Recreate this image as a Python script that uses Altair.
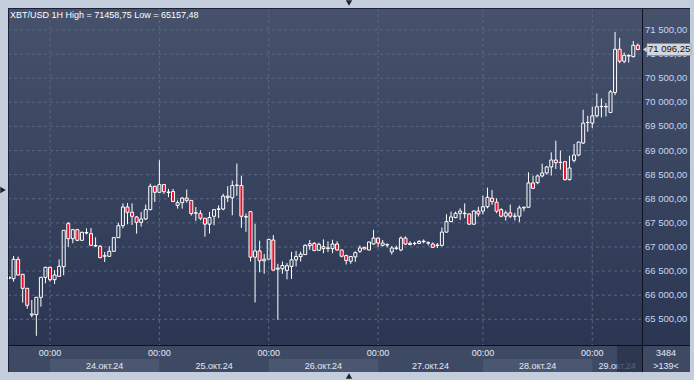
import altair as alt
import pandas as pd

title_text = "XBT/USD 1H High = 71458,75 Low = 65157,48"

opens = [66350, 66343, 66744, 66433, 66142, 65590, 65596, 65956, 66370, 66578,
         66322, 66391, 66592, 67484, 67172, 67359, 67138, 67290, 67276, 67020,
         67014, 66808, 66806, 66910, 67193, 67442, 67829, 67719, 67622, 67511,
         67580, 67774, 68258, 68134, 68293, 68130, 68151, 67863, 67918, 68014,
         67966, 67700, 67692, 67596, 67473, 67637, 67780, 67788, 68055, 68020,
         68275, 68274, 67630, 67733, 66788, 66918, 66712, 66747, 67144, 66540,
         66548, 66514, 66596, 66733, 66801, 66842, 67027, 67075, 66931, 67007,
         66970, 66965, 67061, 66938, 66822, 66705, 66794, 66911, 66993, 66938,
         67061, 67185, 67034, 67040, 66897, 66970, 66938, 67185, 67050, 67070,
         67075, 67110, 67090, 67061, 67030, 67034, 67308, 67527, 67609, 67698,
         67690, 67685, 67472, 67746, 67746, 67835, 68010, 67928, 67776, 67638,
         67707, 67635, 67638, 67810, 67824, 68328, 68334, 68473, 68535, 68659,
         68804, 68752, 68769, 68397, 68797, 68907, 69155, 69580, 69569, 69721,
         69910, 69905, 69790, 70204, 71100, 70852, 70960, 70948, 71183]
highs = [66390, 66813, 66800, 66440, 66150, 65900, 65960, 66380, 66590, 66590,
         66522, 66744, 67352, 67518, 67370, 67375, 67315, 67387, 67394, 67200,
         67040, 66896, 67014, 67200, 67500, 67905, 67912, 67905, 67640, 67726,
         67880, 68313, 68270, 68798, 68300, 68205, 68205, 67966, 68034, 68192,
         67970, 67829, 67760, 67600, 67726, 67780, 67863, 68103, 68260, 68377,
         68730, 68479, 67692, 67740, 67480, 67130, 66856, 67160, 67247, 66651,
         66700, 66665, 66900, 66918, 66904, 67055, 67144, 67100, 67090, 67158,
         67116, 67150, 67116, 66945, 66842, 66815, 66910, 67034, 67000, 67110,
         67356, 67190, 67144, 67075, 67020, 67027, 67219, 67220, 67116, 67109,
         67144, 67157, 67116, 67095, 67082, 67404, 67678, 67733, 67733, 67801,
         67904, 67700, 67760, 67835, 68061, 68230, 68183, 68010, 67803, 67755,
         67880, 67707, 67859, 67830, 68548, 68479, 68500, 68728, 68680, 68962,
         69204, 68997, 68780, 68893, 69135, 69180, 69845, 69721, 69907, 70183,
         70080, 69983, 70252, 71458.75, 71335, 71031, 70997, 71273, 71218]
lows = [66330, 66281, 66410, 65845, 65720, 65541, 65157.48, 65762, 66246, 66280,
        66232, 66380, 66412, 67000, 67076, 67120, 67125, 67262, 67030, 67000,
        66770, 66688, 66800, 66900, 67190, 67387, 67470, 67456, 67276, 67421,
        67560, 67760, 67933, 68120, 68100, 68034, 67931, 67794, 67794, 67918,
        67651, 67541, 67555, 67212, 67281, 67452, 67600, 67760, 67931, 67657,
        68060, 67397, 67315, 66699, 65850, 66473, 66445, 66740, 66510, 65490,
        66445, 66329, 66336, 66596, 66699, 66835, 66938, 66911, 66918, 66870,
        66897, 66870, 66920, 66787, 66637, 66650, 66691, 66876, 66950, 66930,
        67048, 66993, 67013, 66993, 66842, 66938, 66911, 67040, 67034, 67034,
        67061, 67075, 67034, 66979, 66979, 67013, 67300, 67513, 67596, 67561,
        67596, 67465, 67465, 67630, 67678, 67801, 67873, 67700, 67617, 67548,
        67600, 67548, 67514, 67740, 67820, 68200, 68300, 68445, 68500, 68480,
        68617, 68603, 68376, 68380, 68755, 68880, 69135, 69390, 69466, 69686,
        69686, 69707, 69776, 70149, 70811, 70811, 70824, 70928, 71080]
closes = [66370, 66744, 66419, 66142, 65790, 65610, 65956, 66370, 66578, 66322,
          66419, 66599, 67345, 67172, 67359, 67138, 67304, 67300, 67034, 67030,
          66778, 66818, 66910, 67193, 67442, 67829, 67719, 67636, 67511, 67580,
          67774, 68258, 68134, 68293, 68148, 68140, 67945, 67918, 68014, 67966,
          67692, 67710, 67596, 67473, 67610, 67774, 67790, 68055, 68027, 68274,
          68285, 67637, 67620, 66788, 66918, 66712, 66747, 67158, 66520, 66560,
          66616, 66610, 66733, 66801, 66849, 67034, 67068, 66925, 67055, 66966,
          66980, 67061, 66938, 66808, 66719, 66801, 66883, 66979, 66959, 67102,
          67185, 67082, 67082, 67050, 66979, 66980, 67185, 67061, 67075, 67075,
          67116, 67120, 67080, 66993, 67040, 67308, 67527, 67623, 67698, 67746,
          67700, 67472, 67746, 67685, 67835, 68030, 67941, 67742, 67638, 67707,
          67638, 67640, 67810, 67825, 68328, 68217, 68473, 68535, 68659, 68804,
          68748, 68755, 68397, 68638, 68907, 69176, 69569, 69583, 69721, 69907,
          69915, 69915, 70217, 71100, 70852, 70976, 70970, 71183, 71096.25]

day_start_idx = [9, 33, 57, 81, 104, 128]
time_labels = ["00:00", "00:00", "00:00", "00:00", "00:00", "00:00"]
date_labels = ["24.окт.24", "25.окт.24", "26.окт.24", "27.окт.24", "28.окт.24", "29.окт.24"]
y_ticks = [65500, 66000, 66500, 67000, 67500, 68000, 68500, 69000, 69500, 70000, 70500, 71000, 71500]
last_price = 71096.25
bar_total = "3484"
bar_visible = ">139<"

W, H = 634, 337
x_dom = [-0.22, 138.91]
y_dom = [64967, 71956]

FONT = "Liberation Sans"
xs = alt.Scale(domain=x_dom, nice=False, zero=False)
ys = alt.Scale(domain=y_dom, nice=False, zero=False)


def fmt(v):
    return f"{v:,.2f}".replace(",", " ").replace(".", ",")


one = alt.Data(values=[{"k": 1}])

grad = alt.Gradient(gradient="linear",
                    stops=[alt.GradientStop(color="#46526c", offset=0),
                           alt.GradientStop(color="#2b3752", offset=1)],
                    x1=0, x2=0, y1=0, y2=1)

plot_bg = alt.Chart(one).mark_rect(color=grad).encode(
    x=alt.value(0), x2=alt.value(W), y=alt.value(0), y2=alt.value(H))
right_bg = alt.Chart(one).mark_rect(color=grad).encode(
    x=alt.value(W), x2=alt.value(W + 48), y=alt.value(0), y2=alt.value(H))
strip_bg = alt.Chart(one).mark_rect(color="#3e4a63").encode(
    x=alt.value(0), x2=alt.value(W + 48), y=alt.value(H), y2=alt.value(H + 27))

# day bands in the lower strip: each day runs to the next day start (last one to the view edge)
ends = day_start_idx[1:] + [x_dom[1]]
days = pd.DataFrame({
    "d": day_start_idx, "e": ends, "t": time_labels, "lab": date_labels,
    "shade": ["light" if k % 2 == 0 else "dark" for k in range(len(day_start_idx))],
})
band_layer = alt.Chart(days).transform_filter("datum.shade == 'light'").mark_rect(
    color="#4b5771").encode(
    x=alt.X("d:Q", scale=xs, axis=None), x2="e:Q",
    y=alt.value(H + 14), y2=alt.value(H + 27))

grid_df = pd.DataFrame({"v": y_ticks, "lab": [fmt(v) for v in y_ticks]})
hgrid = alt.Chart(grid_df).mark_rule(color="#5b6780", strokeDash=[3, 3], strokeWidth=1).encode(
    y=alt.Y("v:Q", scale=ys, axis=None), x=alt.value(0), x2=alt.value(W))

vgrid = alt.Chart(days).mark_rule(color="#5b6780", strokeDash=[3, 3], strokeWidth=1).encode(
    x=alt.X("d:Q", scale=xs, axis=None), y=alt.value(0), y2=alt.value(H))

df = pd.DataFrame({"i": list(range(len(opens))), "o": opens, "h": highs, "l": lows, "c": closes})
base = alt.Chart(df).transform_calculate(
    top="max(datum.o, datum.c)", bot="min(datum.o, datum.c)",
    xl="datum.i - 0.33", xr="datum.i + 0.33")
wick_up = base.mark_rule(color="white", strokeWidth=1).encode(
    x=alt.X("i:Q", scale=xs, axis=None), y=alt.Y("h:Q", scale=ys, axis=None), y2="top:Q")
wick_dn = base.mark_rule(color="white", strokeWidth=1).encode(
    x=alt.X("i:Q", scale=xs, axis=None), y=alt.Y("bot:Q", scale=ys, axis=None), y2="l:Q")
body = base.mark_rect(stroke="white", strokeWidth=1).encode(
    x=alt.X("xl:Q", scale=xs, axis=None), x2="xr:Q",
    y=alt.Y("top:Q", scale=ys, axis=None), y2="bot:Q",
    fill=alt.condition("datum.c < datum.o", alt.value("#e8102c"), alt.value("transparent")))

sep_v = alt.Chart(one).mark_rule(color="#0c1220", strokeWidth=1).encode(
    x=alt.value(W + 0.5), y=alt.value(0), y2=alt.value(H + 27))
sep_h = alt.Chart(one).mark_rule(color="#0c1220", strokeWidth=1).encode(
    y=alt.value(H + 0.5), x=alt.value(0), x2=alt.value(W + 48))
sep_l = alt.Chart(one).mark_rule(color="#1b2335", strokeWidth=1).encode(
    x=alt.value(0.5), y=alt.value(0), y2=alt.value(H + 27))
sep_t = alt.Chart(one).mark_rule(color="#1b2335", strokeWidth=1).encode(
    y=alt.value(0.5), x=alt.value(0), x2=alt.value(W + 48))

ylab = alt.Chart(grid_df).mark_text(align="left", baseline="middle", font=FONT,
                                    fontSize=9.5, color="#c4d6f2").encode(
    y=alt.Y("v:Q", scale=ys, axis=None), x=alt.value(W + 3), text="lab:N")

price_df = pd.DataFrame({"p": [last_price], "lab": [fmt(last_price)]})
price_box = alt.Chart(price_df).mark_rect(color="#d3d7dc", stroke="#7d8796", strokeWidth=0.5,
                                          yOffset=-6, y2Offset=6).encode(
    y=alt.Y("p:Q", scale=ys, axis=None), y2="p:Q", x=alt.value(W + 5), x2=alt.value(W + 49))
price_arrow = alt.Chart(price_df).mark_point(shape="triangle-left", filled=True, size=28,
                                             color="#d3d7dc", opacity=1).encode(
    y=alt.Y("p:Q", scale=ys, axis=None), x=alt.value(W + 3))
price_txt = alt.Chart(price_df).mark_text(align="left", baseline="middle", font=FONT,
                                          fontSize=9.5, color="#111111").encode(
    y=alt.Y("p:Q", scale=ys, axis=None), x=alt.value(W + 6), text="lab:N")

tlab = alt.Chart(days).mark_text(align="center", baseline="middle", font=FONT,
                                 fontSize=9, color="#e2e9f4").encode(
    x=alt.X("d:Q", scale=xs, axis=None), y=alt.value(H + 8), text="t:N")
dlab = alt.Chart(days).transform_calculate(m="(datum.d + datum.e) / 2").mark_text(
    align="center", baseline="middle", font=FONT, fontSize=9, color="#e2e9f4").encode(
    x=alt.X("m:Q", scale=xs, axis=None), y=alt.value(H + 21), text="lab:N")

dark_box = alt.Chart(one).mark_rect(color="#27324a", opacity=0.75).encode(
    x=alt.value(W - 25), x2=alt.value(W), y=alt.value(H + 1), y2=alt.value(H + 27))

cnt_df = pd.DataFrame({"t": [bar_total, bar_visible], "yy": [H + 8, H + 21]})
cnt = alt.Chart(cnt_df).mark_text(align="center", baseline="middle", font=FONT,
                                  fontSize=9, color="#e2e9f4").encode(
    x=alt.value(W + 24), y=alt.Y("yy:Q", scale=None), text="t:N")

title = alt.Chart(one).mark_text(align="left", baseline="middle", font=FONT,
                                 fontSize=9, color="white").encode(
    x=alt.value(2), y=alt.value(7), text=alt.value(title_text))

tri_df = pd.DataFrame({"sx": [341, 341, -5], "sy": [-5, 368, 182],
                       "shape": ["triangle-down", "triangle-up", "triangle-right"]})
tris = alt.Chart(tri_df).mark_point(filled=True, size=40, color="#1c2230", opacity=1).encode(
    x=alt.X("sx:Q", scale=None), y=alt.Y("sy:Q", scale=None),
    shape=alt.Shape("shape:N", scale=None))

chart = alt.layer(
    plot_bg, right_bg, strip_bg, band_layer, hgrid, vgrid,
    wick_up, wick_dn, body,
    sep_v, sep_h, sep_l, sep_t,
    ylab, price_arrow, price_box, price_txt,
    tlab, dlab, dark_box, cnt, title, tris
).properties(
    width=W, height=H,
    padding={"left": 8, "top": 8, "right": 52, "bottom": 35},
    autosize=alt.AutoSizeParams(type="none"),
).configure(background="#c3cddb").configure_view(stroke=None)

chart.save("out.html", embed_options={"renderer": "svg", "actions": False})
